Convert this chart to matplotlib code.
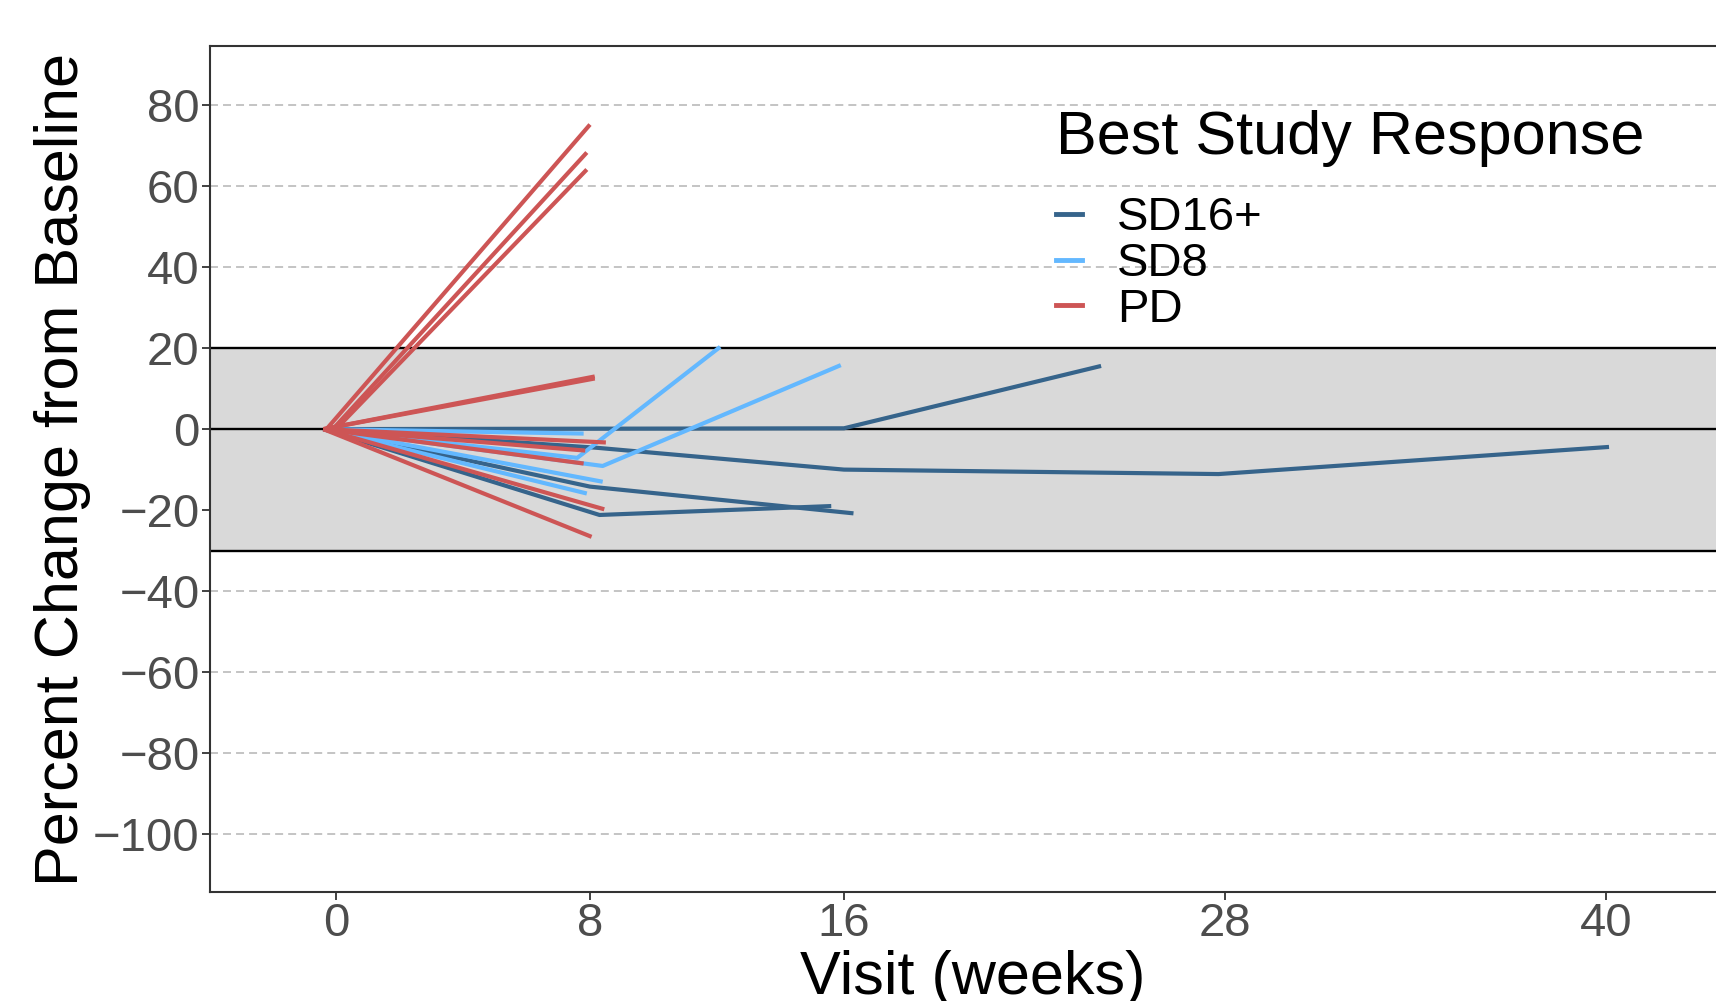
import matplotlib.pyplot as plt
from matplotlib.lines import Line2D

plt.rcParams['font.family'] = ['Liberation Sans', 'DejaVu Sans']

# one list of visits (weeks) and one list of % change per patient
sd16_weeks = [[-0.4, 16.0, 24.1],
              [-0.4, 8.2, 16.0, 27.8, 40.1],
              [-0.4, 8.0, 16.3],
              [-0.4, 8.3, 15.6]]
sd16_vals = [[0, 0.2, 15.6],
             [0, -4.6, -10.0, -11.1, -4.4],
             [0, -14.2, -20.8],
             [0, -21.2, -19.0]]

sd8_weeks = [[-0.4, 7.8],
             [-0.4, 7.6, 12.1],
             [-0.4, 8.4, 15.9],
             [-0.4, 8.4],
             [-0.4, 7.9]]
sd8_vals = [[0, -1.1],
            [0, -7.1, 20.3],
            [0, -9.1, 15.8],
            [0, -13.0],
            [0, -15.9]]

pd_weeks = [[-0.3, 8.0], [-0.1, 7.9], [0.0, 7.9], [-0.4, 8.15], [-0.4, 8.15],
            [-0.4, 8.5], [-0.4, 7.85], [-0.4, 7.8], [-0.4, 8.45], [-0.4, 8.05]]
pd_vals = [[0, 75.2], [0, 68.3], [0, 64.1], [0, 12.5], [0, 13.0],
           [0, -3.3], [0, -5.3], [0, -8.5], [0, -19.8], [0, -26.6]]

groups = ['SD16+', 'SD8', 'PD']
colors = {'SD16+': '#36648B', 'SD8': '#63B8FF', 'PD': '#CD5555'}
x_ticks = [0, 8, 16, 28, 40]
y_ticks = list(range(-100, 81, 20))

W, H = 1716, 1001
fig = plt.figure(figsize=(W / 100, H / 100), dpi=100)
ax = fig.add_axes([210 / W, (H - 892) / H, (1736 - 210) / W, (892 - 46) / H])

ax.set_axisbelow(True)
ax.grid(axis='y', ls=(0, (4.1, 2.6)), color='#C4C4C4', lw=1.4)
ax.grid(axis='x', visible=False)

ax.axhspan(-30, 20, color='#D9D9D9', zorder=1, lw=0)
for yv in [20, 0, -30]:
    ax.axhline(yv, color='black', lw=1.7, zorder=1.5)

series = [('SD16+', sd16_weeks, sd16_vals),
          ('SD8', sd8_weeks, sd8_vals),
          ('PD', pd_weeks, pd_vals)]
for name, wk, vals in series:
    for w, v in zip(wk, vals):
        ax.plot(w, v, color=colors[name], lw=3.0, zorder=2,
                solid_capstyle='butt', solid_joinstyle='round')

ax.set_xlim(-3.97, 44.1)
ax.set_ylim(-114.3, 94.6)
ax.set_xticks(x_ticks)
ax.set_yticks(y_ticks)
ax.tick_params(labelsize=34, labelcolor='#4D4D4D', color='#333333',
               length=6, width=1.3, pad=1.5)
for s in ax.spines.values():
    s.set_color('#333333')
    s.set_linewidth(1.5)

ax.set_ylabel('Percent Change from Baseline', fontsize=44)
ax.yaxis.set_label_coords(-0.078, 0.5)
ax.set_xlabel('Visit (weeks)', fontsize=44)
ax.xaxis.set_label_coords(0.5, -0.069)

handles = [Line2D([], [], color=colors[g], lw=3.5) for g in groups]
leg = ax.legend(handles, groups, title='Best Study Response',
                loc='upper left', bbox_to_anchor=(1056 / W, (H - 110) / H),
                bbox_transform=fig.transFigure, frameon=False,
                fontsize=34, title_fontsize=44, handlelength=0.55,
                handletextpad=0.75, labelspacing=0.04, borderpad=0,
                borderaxespad=0)
leg._legend_box.align = 'left'
leg._legend_box.sep = 21

fig.savefig('out.png', dpi=100)
